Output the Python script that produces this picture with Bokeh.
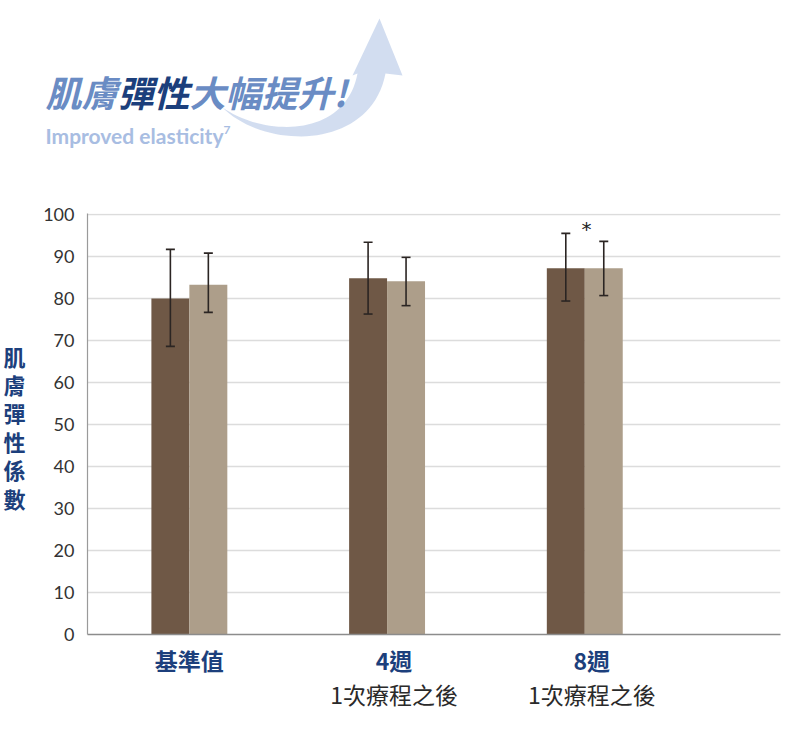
import numpy as np
from bokeh.plotting import figure
from bokeh.models import (Range1d, FixedTicker, ColumnDataSource, Whisker, TeeHead,
                          LinearAxis, CustomJSTickFormatter)
from bokeh.layouts import column
from bokeh.core.properties import value
from bokeh.embed import file_html
from bokeh.resources import INLINE

# ---------------- data ----------------
categories = ["基準值", "4週", "8週"]
sublabels = ["", "1次療程之後", "1次療程之後"]
dark_values = [80.0, 84.8, 87.2]
dark_upper = [91.7, 93.4, 95.5]
dark_lower = [68.6, 76.3, 79.4]
light_values = [83.3, 84.1, 87.2]
light_upper = [90.8, 89.8, 93.6]
light_lower = [76.7, 78.3, 80.7]
y_ticks = [0, 10, 20, 30, 40, 50, 60, 70, 80, 90, 100]
significant_group = 2
significant_y = 96.5

y_title_chars = list("肌膚彈性係數")
title_parts = ["肌膚", "彈性", "大幅提升!"]
subtitle = "Improved elasticity"

# ---------------- styles ----------------
DARK = "#6f5846"
LIGHT = "#ad9e8a"
NAVY = "#1c3f7c"
TITLE_BLUE = "#6a8cc4"
SUB_BLUE = "#a8bde2"
ARROW = "#d0dbef"
CJK = "Noto Sans CJK TC"

# ---------------- header ----------------
h = figure(width=794, height=198, x_range=Range1d(0, 794), y_range=Range1d(198, 0),
           x_axis_location=None, y_axis_location=None, toolbar_location=None,
           output_backend="svg", min_border=0)
h.grid.visible = False
h.outline_line_color = None
if hasattr(h, "frame_align"):
    h.frame_align = False

# decorative curved arrow (pixel coordinates of the header)
def bez(p0, p1, p2, p3, n=40):
    t = np.linspace(0, 1, n)[:, None]
    pts = ((1 - t) ** 3) * np.array(p0) + 3 * ((1 - t) ** 2) * t * np.array(p1) \
        + 3 * (1 - t) * t ** 2 * np.array(p2) + t ** 3 * np.array(p3)
    return pts[:, 0], pts[:, 1]

lower_edge = bez((222, 107), (265, 150), (370, 150), (385, 73))
upper_edge = bez((357, 73), (345, 137), (265, 137), (222, 107))
head = ([352, 379, 402], [75, 18, 75])
ax = list(lower_edge[0]) + [head[0][2], head[0][1], head[0][0]] + list(upper_edge[0])
ay = list(lower_edge[1]) + [head[1][2], head[1][1], head[1][0]] + list(upper_edge[1])
h.patch(ax, ay, fill_color=ARROW, line_color=None, fill_alpha=0.95)

title_x = [45, 117, 189]
title_colors = [TITLE_BLUE, NAVY, TITLE_BLUE]
h.text(x=title_x, y=[90, 90, 90], text=title_parts, text_color=title_colors,
       text_font=value(CJK), text_font_size="36px", text_font_style="bold italic",
       text_baseline="middle", text_align="left")
h.text(x=[45], y=[135], text=[subtitle], text_color=SUB_BLUE,
       text_font=value("Lato"), text_font_size="21px", text_font_style="bold",
       text_baseline="alphabetic", text_align="left")
h.text(x=[223], y=[129], text=["7"], text_color=SUB_BLUE,
       text_font=value("Lato"), text_font_size="12px", text_font_style="bold",
       text_baseline="alphabetic", text_align="left")

# ---------------- chart ----------------
p = figure(width=794, height=520, x_range=Range1d(-0.0152, 3.4899), y_range=Range1d(0, 100.24),
           toolbar_location=None, output_backend="svg",
           min_border_left=86, min_border_right=14, min_border_top=15, min_border_bottom=84)
if hasattr(p, "frame_align"):
    p.frame_align = False
p.outline_line_color = None
p.xgrid.visible = False
p.ygrid.grid_line_color = "#dcdcdc"
p.ygrid.grid_line_width = 1.6

p.yaxis.ticker = FixedTicker(ticks=y_ticks)
p.yaxis.axis_line_color = "#9a9a9a"
p.yaxis.axis_line_width = 1.2
p.yaxis.major_tick_line_color = None
p.yaxis.minor_tick_line_color = None
p.yaxis.major_tick_out = 0
p.yaxis.major_label_standoff = 13
p.yaxis.major_label_text_font = "Lato"
p.yaxis.major_label_text_font_size = "18px"
p.yaxis.major_label_text_color = "#333333"

bar_w = 0.192
centers = [i + 0.5 for i in range(len(categories))]
dark_x = [c - bar_w / 2 for c in centers]
light_x = [c + bar_w / 2 for c in centers]

# category labels through the x axis (two stacked axes for the two text lines)
label_shift = 7 / 198.0
label_x = [c + (label_shift if s else 0) for c, s in zip(centers, sublabels)]
p.xaxis.ticker = FixedTicker(ticks=label_x)
p.xaxis.formatter = CustomJSTickFormatter(args=dict(labels=categories),
                                          code="return labels[index];")
p.xaxis.axis_line_color = "#8c8c8c"
p.xaxis.axis_line_width = 1.5
p.xaxis.major_tick_line_color = None
p.xaxis.minor_tick_line_color = None
p.xaxis.major_tick_out = 0
p.xaxis.major_label_standoff = 8
p.xaxis.major_label_text_font = CJK
p.xaxis.major_label_text_font_size = "23px"
p.xaxis.major_label_text_font_style = "bold"
p.xaxis.major_label_text_color = NAVY

sub_x = [x for x, s in zip(label_x, sublabels) if s]
sub_text = [s for s in sublabels if s]
sub_axis = LinearAxis(ticker=FixedTicker(ticks=sub_x),
                      formatter=CustomJSTickFormatter(args=dict(labels=sub_text),
                                                      code="return labels[index];"),
                      axis_line_color=None, major_tick_line_color=None,
                      minor_tick_line_color=None, major_tick_out=0, major_tick_in=0,
                      major_label_standoff=-3, major_label_text_font=CJK,
                      major_label_text_font_size="23px", major_label_text_color="#2a2a2a")
p.add_layout(sub_axis, "below")

# stacked vertical y-axis title as an extra left axis
y_title_top = 66.4
y_title_step = 6.76
title_ticks = [y_title_top - i * y_title_step for i in range(len(y_title_chars))][::-1]
title_axis = LinearAxis(ticker=FixedTicker(ticks=title_ticks),
                        formatter=CustomJSTickFormatter(args=dict(labels=y_title_chars[::-1]),
                                                        code="return labels[index];"),
                        axis_line_color=None, major_tick_line_color=None,
                        minor_tick_line_color=None, major_tick_out=0, major_tick_in=0,
                        major_label_standoff=15, major_label_text_font=CJK,
                        major_label_text_font_size="22px", major_label_text_font_style="bold",
                        major_label_text_color=NAVY)
p.add_layout(title_axis, "left")

src_d = ColumnDataSource(dict(x=dark_x, top=dark_values, upper=dark_upper, lower=dark_lower))
src_l = ColumnDataSource(dict(x=light_x, top=light_values, upper=light_upper, lower=light_lower))

p.vbar(x="x", top="top", width=bar_w, source=src_d, fill_color=DARK, line_color=None)
p.vbar(x="x", top="top", width=bar_w, source=src_l, fill_color=LIGHT, line_color=None)

for src in (src_d, src_l):
    w = Whisker(source=src, base="x", upper="upper", lower="lower",
                line_color="#2b2523", line_width=1.6,
                upper_head=TeeHead(size=9, line_color="#2b2523", line_width=1.6),
                lower_head=TeeHead(size=9, line_color="#2b2523", line_width=1.6))
    w.level = "overlay"
    p.add_layout(w)

p.text(x=[centers[significant_group] + 0.009], y=[significant_y], text=["*"],
       text_font=value("DejaVu Sans"), text_font_size="20px", text_color="#222222",
       text_align="center", text_baseline="middle")

layout = column(h, p, spacing=0)
open("out.html", "w").write(file_html(layout, INLINE))
